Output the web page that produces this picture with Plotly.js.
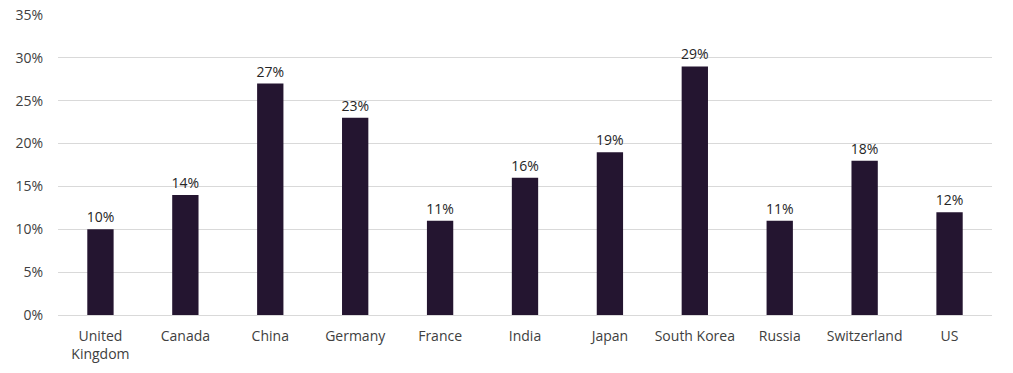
<!DOCTYPE html>
<html><head><meta charset="utf-8">
<script src="https://cdn.plot.ly/plotly-3.0.1.min.js"></script>
<style>body{margin:0;background:#fff}#chart{width:1013px;height:373px}</style>
</head><body><div id="chart"></div>
<script>
const categories = ["United<br>Kingdom","Canada","China","Germany","France","India","Japan","South Korea","Russia","Switzerland","US"];
const values = [0.10,0.14,0.27,0.23,0.11,0.16,0.19,0.29,0.11,0.18,0.12];
const tickVals = [0,0.05,0.10,0.15,0.20,0.25,0.30,0.35];
const tickText = ["0%","5%","10%","15%","20%","25%","30%","35%"];
const font = {family:"Open Sans, Calibri, sans-serif", size:14, color:"#404040"};
Plotly.newPlot("chart",[{
  type:"bar", x:categories, y:values,
  marker:{color:"#241530"},
  text:values.map(v=>Math.round(v*100)+"%"),
  textposition:"outside", cliponaxis:false, constraintext:"none",
  textfont:{family:font.family,size:14,color:"#262626"},
  hoverinfo:"none"
}],{
  width:1013, height:373,
  margin:{l:58,r:21,t:15,b:58},
  paper_bgcolor:"#fff", plot_bgcolor:"#fff",
  bargap:0.69, showlegend:false, font:font,
  xaxis:{showgrid:false, showline:true, linecolor:"#d9d9d9", linewidth:1, ticks:"", tickfont:font, ticklabelstandoff:8, fixedrange:true},
  yaxis:{range:[0,0.35], tickvals:tickVals, ticktext:tickText, showgrid:true, gridcolor:"#d9d9d9", gridwidth:1, zeroline:false, ticks:"", tickfont:font, ticklabelstandoff:14, fixedrange:true}
},{staticPlot:true});
</script></body></html>
